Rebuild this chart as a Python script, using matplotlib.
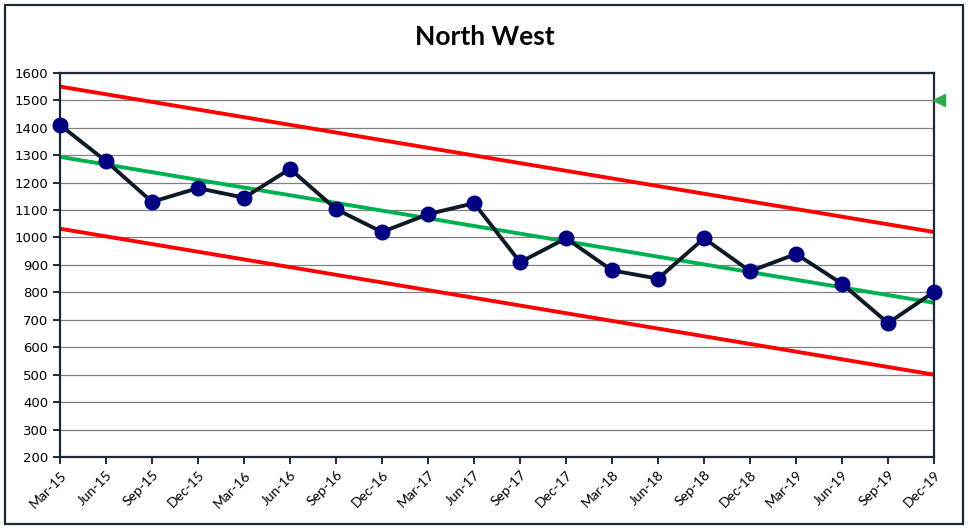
import matplotlib.pyplot as plt
from matplotlib.patches import Rectangle

# Quarterly values
quarters = ["Mar-15", "Jun-15", "Sep-15", "Dec-15", "Mar-16", "Jun-16", "Sep-16", "Dec-16",
            "Mar-17", "Jun-17", "Sep-17", "Dec-17", "Mar-18", "Jun-18", "Sep-18", "Dec-18",
            "Mar-19", "Jun-19", "Sep-19", "Dec-19"]
values = [1410, 1278, 1130, 1180, 1145, 1250, 1103, 1020, 1085, 1125,
          910, 997, 880, 850, 997, 877, 940, 831, 688, 802]

# Trend and control limits (start, end)
trend = [1294, 762]
upper = [1550, 1020]
lower = [1032, 500]
target = 1500

fig = plt.figure(figsize=(9.7, 5.28), dpi=100)
ax = fig.add_axes([0.0619, 0.1345, 0.9011, 0.7275])

x = list(range(len(quarters)))
ends = [x[0], x[-1]]

ax.plot(ends, upper, color="#ff0000", lw=2.8, zorder=2)
ax.plot(ends, lower, color="#ff0000", lw=2.8, zorder=2)
ax.plot(ends, trend, color="#00b050", lw=2.8, zorder=2)
ax.plot(x, values, color="#0d1a26", lw=2.8, marker="o", ms=10.5,
        markerfacecolor="#000080", markeredgecolor="#000080", zorder=3, clip_on=False)

# Target marker outside the right edge
ax.plot([x[-1] + 0.1], [target], marker="<", color="#33a84a", ms=9, clip_on=False, zorder=4)

ax.set_xlim(0, len(quarters) - 1)
ax.set_ylim(200, 1600)
ax.set_yticks(range(200, 1601, 100))
ax.set_xticks(x)
ax.set_xticklabels(quarters, rotation=45, ha="right", rotation_mode="anchor",
                   fontsize=10, family="Lato")
for lbl in ax.get_yticklabels():
    lbl.set_fontsize(9.5)
ax.grid(axis="y", color="#808080", lw=0.9)
ax.set_axisbelow(True)
for s in ax.spines.values():
    s.set_color("#1c2a36")
    s.set_linewidth(1.6)
ax.tick_params(axis="both", color="#1c2a36", width=1.4, length=5, direction="out")

fig.text(0.5, 0.93, "North West", ha="center", va="center",
         fontsize=19, fontweight="bold", family="Lato")

fig.patches.append(Rectangle((0.005, 0.007), 0.988, 0.983, transform=fig.transFigure,
                             fill=False, edgecolor="#1c2a36", lw=1.6))

fig.savefig("out.png", dpi=100)
